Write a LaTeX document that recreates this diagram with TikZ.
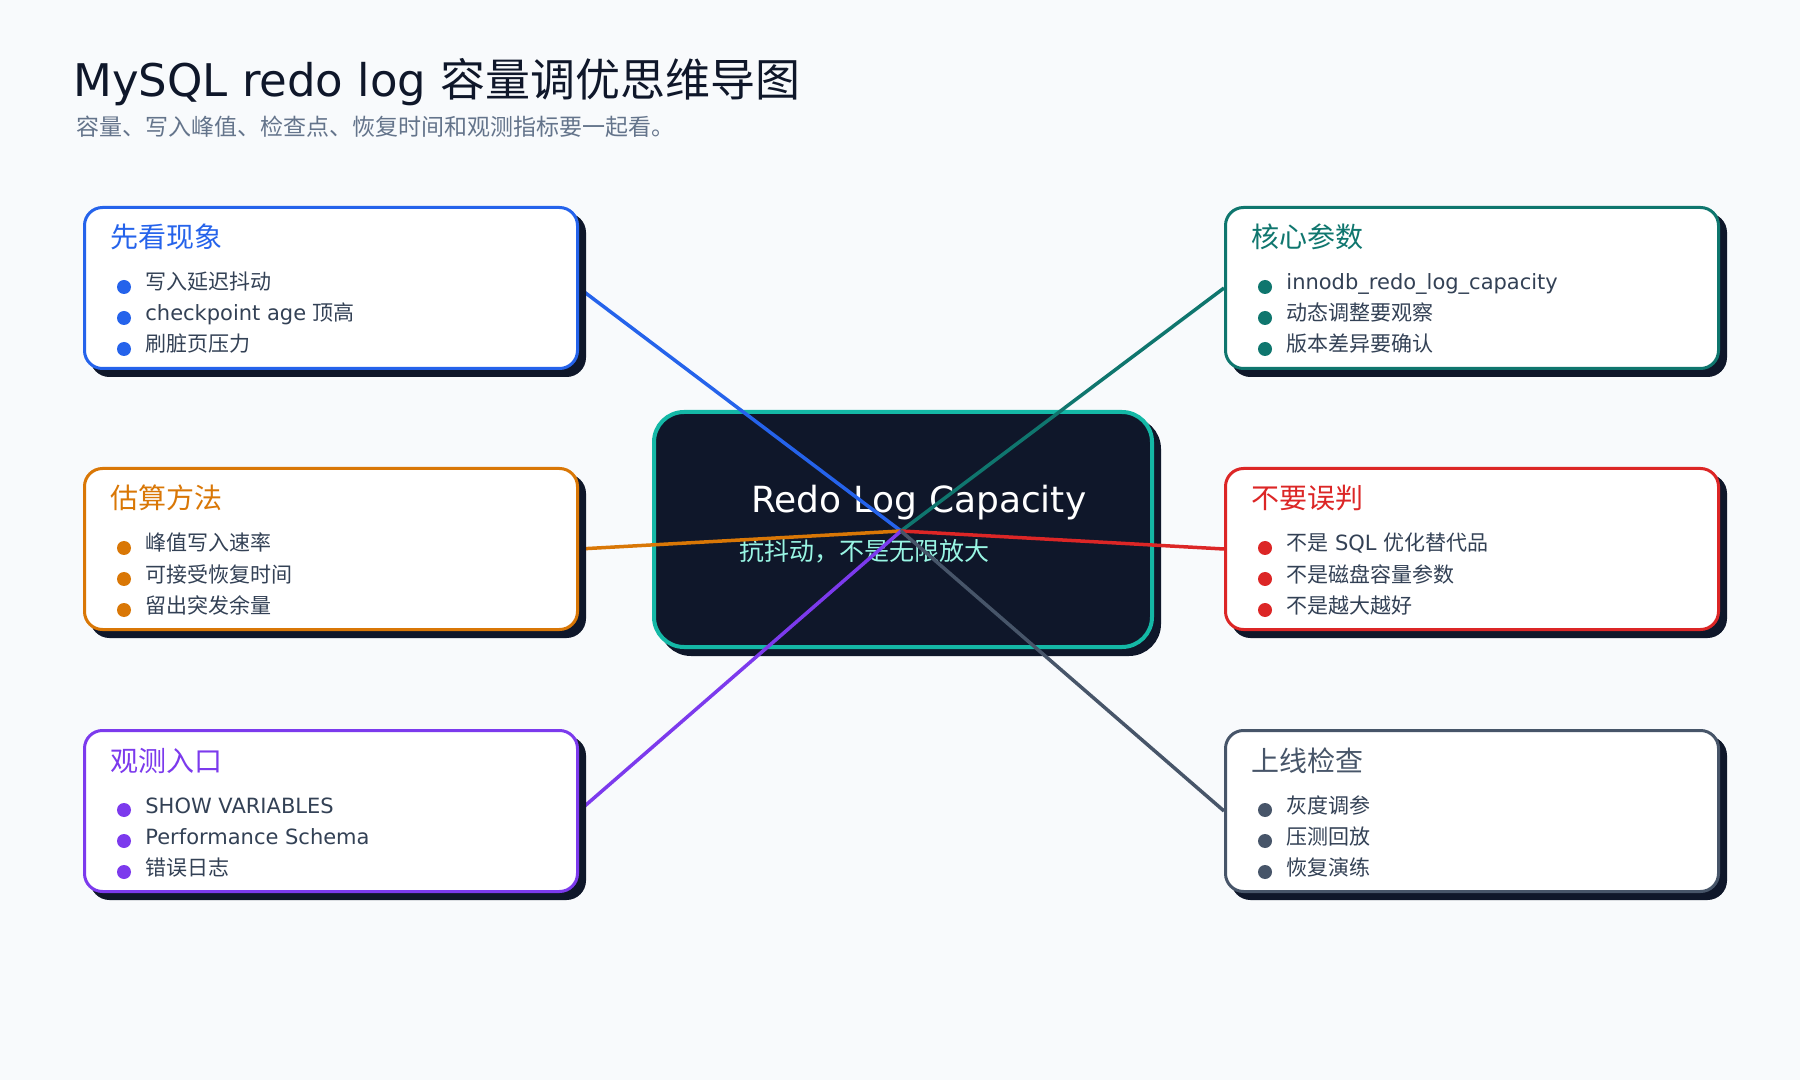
\documentclass[tikz,border=0pt]{standalone}
\usepackage{fontspec}
\setmainfont{DejaVu Sans}
\newfontfamily\zh{Noto Sans CJK SC}
\usetikzlibrary{positioning,shadows,calc}

\definecolor{pagebg}{HTML}{F8FAFC}
\definecolor{ink}{HTML}{0F172A}
\definecolor{muted}{HTML}{64748B}
\definecolor{itemtext}{HTML}{334155}
\definecolor{cblue}{HTML}{2563EB}
\definecolor{corange}{HTML}{D97706}
\definecolor{cpurple}{HTML}{7C3AED}
\definecolor{cteal}{HTML}{0F766E}
\definecolor{cred}{HTML}{DC2626}
\definecolor{cslate}{HTML}{475569}
\definecolor{coreline}{HTML}{14B8A6}
\definecolor{coresub}{HTML}{99F6E4}

\pgfdeclarelayer{back}
\pgfdeclarelayer{wires}
\pgfsetlayers{back,wires,main}

\tikzset{
  card/.style={draw=#1, line width=1.5pt, fill=white, rounded corners=9pt,
    minimum width=246.5pt, minimum height=80.5pt, anchor=north west,
    drop shadow={shadow xshift=3.5pt, shadow yshift=-3.5pt, fill=ink, draw=ink, opacity=1}},
  cardhead/.style={anchor=base west, inner sep=0pt, text=#1, font=\zh\fontsize{14}{16}\selectfont},
  carditem/.style={anchor=base west, inner sep=0pt, text=itemtext, font=\fontsize{10.5}{12}\selectfont},
  wire/.style={draw=#1, line width=1.75pt},
}

% one branch card: name, colour, x, y, heading, items
\newcommand\branch[6]{%
  \node[card=#2] (#1) at (#3,#4) {};
  \node[cardhead=#2] (#1-head) at ($(#1.north west)+(27,42)$) {#5};
  \foreach \txt [count=\i from 0] in {#6} {
    \fill[#2] ($(#1.north west)+(41,81+31*\i)$) circle (3.5pt);
    \node[carditem] (#1-\i) at ($(#1.north west)+(62,84+31*\i)$) {\txt};
  }
}

\begin{document}
\begin{tikzpicture}[x=0.5pt, y=-0.5pt]
  \useasboundingbox (0,0) rectangle (1800,1080);
  \begin{pgfonlayer}{back}
    \fill[pagebg] (0,0) rectangle (1800,1080);
    % title
    \node[anchor=base west, inner sep=0pt, text=ink, font=\fontsize{22.5}{26}\selectfont] (title) at (73,97)
      {MySQL redo log {\zh 容量调优思维导图}};
    \node[anchor=base west, inner sep=0pt, text=muted, font=\zh\fontsize{11.5}{14}\selectfont] (subtitle) at (76,136)
      {容量、写入峰值、检查点、恢复时间和观测指标要一起看。};
    % centre
    \node[draw=coreline, line width=2pt, fill=ink, rounded corners=15pt, anchor=north west,
      minimum width=249pt, minimum height=117.5pt,
      drop shadow={shadow xshift=3.5pt, shadow yshift=-3.5pt, fill=ink, draw=ink, opacity=1}] (core) at (652,410) {};
    \node[anchor=base west, inner sep=0pt, text=white, font=\fontsize{18}{22}\selectfont] (core-title) at (751,513) {Redo Log Capacity};
    \node[anchor=base west, inner sep=0pt, text=coresub, font=\zh\fontsize{12.5}{15}\selectfont] (core-sub) at (739,560) {抗抖动，不是无限放大};
  \end{pgfonlayer}

  \coordinate (hub) at (901,531);

  % left side
  \branch{look}{cblue}{83}{206}{先看现象}{{{\zh 写入延迟抖动}}, {checkpoint age {\zh 顶高}}, {{\zh 刷脏页压力}}}
  \branch{estimate}{corange}{83}{467}{估算方法}{{{\zh 峰值写入速率}}, {{\zh 可接受恢复时间}}, {{\zh 留出突发余量}}}
  \branch{observe}{cpurple}{83}{729}{观测入口}{{SHOW VARIABLES}, {Performance Schema}, {{\zh 错误日志}}}
  % right side
  \branch{params}{cteal}{1224}{206}{核心参数}{{innodb\_redo\_log\_capacity}, {{\zh 动态调整要观察}}, {{\zh 版本差异要确认}}}
  \branch{pitfalls}{cred}{1224}{467}{不要误判}{{{\zh 不是} SQL {\zh 优化替代品}}, {{\zh 不是磁盘容量参数}}, {{\zh 不是越大越好}}}
  \branch{rollout}{cslate}{1224}{729}{上线检查}{{{\zh 灰度调参}}, {{\zh 压测回放}}, {{\zh 恢复演练}}}

  \begin{pgfonlayer}{wires}
    \draw[wire=cblue] (look.east) -- (hub);
    \draw[wire=corange] (estimate.east) -- (hub);
    \draw[wire=cpurple] (observe.east) -- (hub);
    \draw[wire=cteal] (params.west) -- (hub);
    \draw[wire=cred] (pitfalls.west) -- (hub);
    \draw[wire=cslate] (rollout.west) -- (hub);
  \end{pgfonlayer}
\end{tikzpicture}
\end{document}
